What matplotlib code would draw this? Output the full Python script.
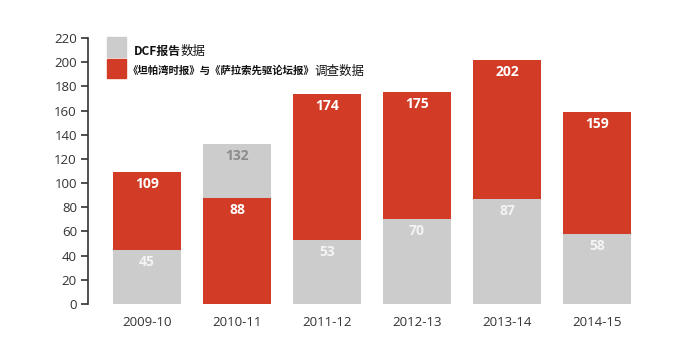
import numpy as np
import matplotlib
matplotlib.use("Agg")
import matplotlib.pyplot as plt
from matplotlib.patches import Rectangle

plt.rcParams['font.family'] = ['Open Sans', 'Noto Sans CJK SC', 'DejaVu Sans']

# Data
years = ["2009-10", "2010-11", "2011-12", "2012-13", "2013-14", "2014-15"]
dcf_counts = [45, 132, 53, 70, 87, 58]
paper_counts = [109, 88, 174, 175, 202, 159]

legend_bold = ["DCF报告", "《坦帕湾时报》与《萨拉索先驱论坛报》"]
legend_rest = ["数据", "调查数据"]

GREY = "#cccccc"
RED = "#d23c26"
TEXT = "#333333"

fig = plt.figure(figsize=(7.0, 3.61), dpi=100)
W, H = 700, 361
ax = fig.add_axes([88 / W, (H - 304) / H, (642 - 88) / W, (304 - 38) / H])

x = np.arange(len(years))
width = 0.755

for i in range(len(years)):
    g, r = dcf_counts[i], paper_counts[i]
    # taller bar goes behind the shorter one
    zg, zr = (2, 3) if g > r else (3, 2)
    ax.bar(x[i], g, width, color=GREY, zorder=zg)
    ax.bar(x[i], r, width, color=RED, zorder=zr)
    ax.annotate(str(r), (x[i], r), xytext=(0, -12), textcoords="offset pixels",
                ha="center", va="center", color="white", fontsize=10,
                fontweight="bold", zorder=5)
    gcol = "#8c8c8c" if g > r else "#f4f4f4"
    ax.annotate(str(g), (x[i], g), xytext=(0, -12), textcoords="offset pixels",
                ha="center", va="center", color=gcol, fontsize=10,
                fontweight="bold", zorder=5)

ax.set_xlim(-0.656, 5.5)
ax.set_ylim(0, 220)
ax.set_yticks(np.arange(0, 221, 20))
ax.set_xticks(x)
ax.set_xticklabels(years)

for s in ["top", "right", "bottom"]:
    ax.spines[s].set_visible(False)
ax.spines["left"].set_color(TEXT)
ax.spines["left"].set_linewidth(1.2)
ax.tick_params(axis="y", direction="out", length=5, width=1.2, color=TEXT,
               labelcolor=TEXT, labelsize=9.5, pad=3)
ax.tick_params(axis="x", length=0, labelcolor=TEXT, labelsize=9.5, pad=9)

# legend: swatches plus mixed-weight text
fig.patches.append(Rectangle((107 / W, (H - 57) / H), 19 / W, 20 / H,
                             transform=fig.transFigure, color=GREY))
fig.patches.append(Rectangle((107 / W, (H - 78) / H), 19 / W, 19 / H,
                             transform=fig.transFigure, color=RED))

fig.canvas.draw()
renderer = fig.canvas.get_renderer()
starts = [(134, 51, 8.6), (128, 71, 7.5)]
for (px, py, fs), b, rest in zip(starts, legend_bold, legend_rest):
    t = fig.text(px / W, (H - py) / H, b, fontsize=fs,
                 fontweight="bold", va="center", color="#111111",
                 family=['Noto Sans CJK SC', 'DejaVu Sans'])
    bb = t.get_window_extent(renderer)
    fig.text(bb.x1 / W, (H - py) / H, rest, fontsize=9, va="center",
             color="#111111", family=['Noto Sans CJK SC', 'DejaVu Sans'])

fig.savefig("out.png", dpi=100)
